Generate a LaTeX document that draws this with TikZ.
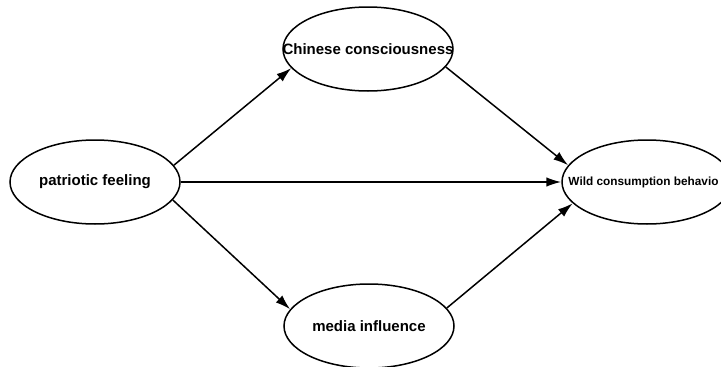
\documentclass[tikz,border=0pt]{standalone}
\usepackage{fontspec}
\setmainfont{Liberation Sans}
\usepackage{tikz}
\usetikzlibrary{arrows.meta}
\usetikzlibrary{positioning,shapes.geometric}

\begin{document}
\begin{tikzpicture}[
x=1pt,y=-1pt,
Latent/.style={ellipse,draw=black,line width=1.5pt,minimum width=170pt,minimum height=84pt,inner sep=0pt,font=\bfseries\fontsize{15}{18}\selectfont},
Path/.style={-{Latex[length=15pt, width=9.5pt]},line width=1.5pt,black}
]
\useasboundingbox (0,0) rectangle (721,367);
\clip (0,0) rectangle (721,367);
%\draw[color=gray,step=50,dotted] (0,0) grid (721,367);

% the four variables
\node[Latent] (pf) at (95,182) {\makebox[0pt]{patriotic feeling}};
\node[Latent] (cc) at (368,49) {\makebox[0pt]{Chinese consciousness}};
\node[Latent] (mi) at (369,326) {\makebox[0pt]{media influence}};
\node[Latent,font=\bfseries\fontsize{11.8}{14}\selectfont] (wc) at (647,182) {\makebox[0pt]{Wild consumption behavio\hspace{7pt}}};

% paths
\draw[Path] (pf.12) -- (cc.194);
\draw[Path] (pf.east) -- (wc.west);
\draw[Path] (pf.-13) -- (mi.168);
\draw[Path] (cc.-13) -- (wc.168);
\draw[Path] (mi.13) -- (wc.196);

\end{tikzpicture}
\end{document}
